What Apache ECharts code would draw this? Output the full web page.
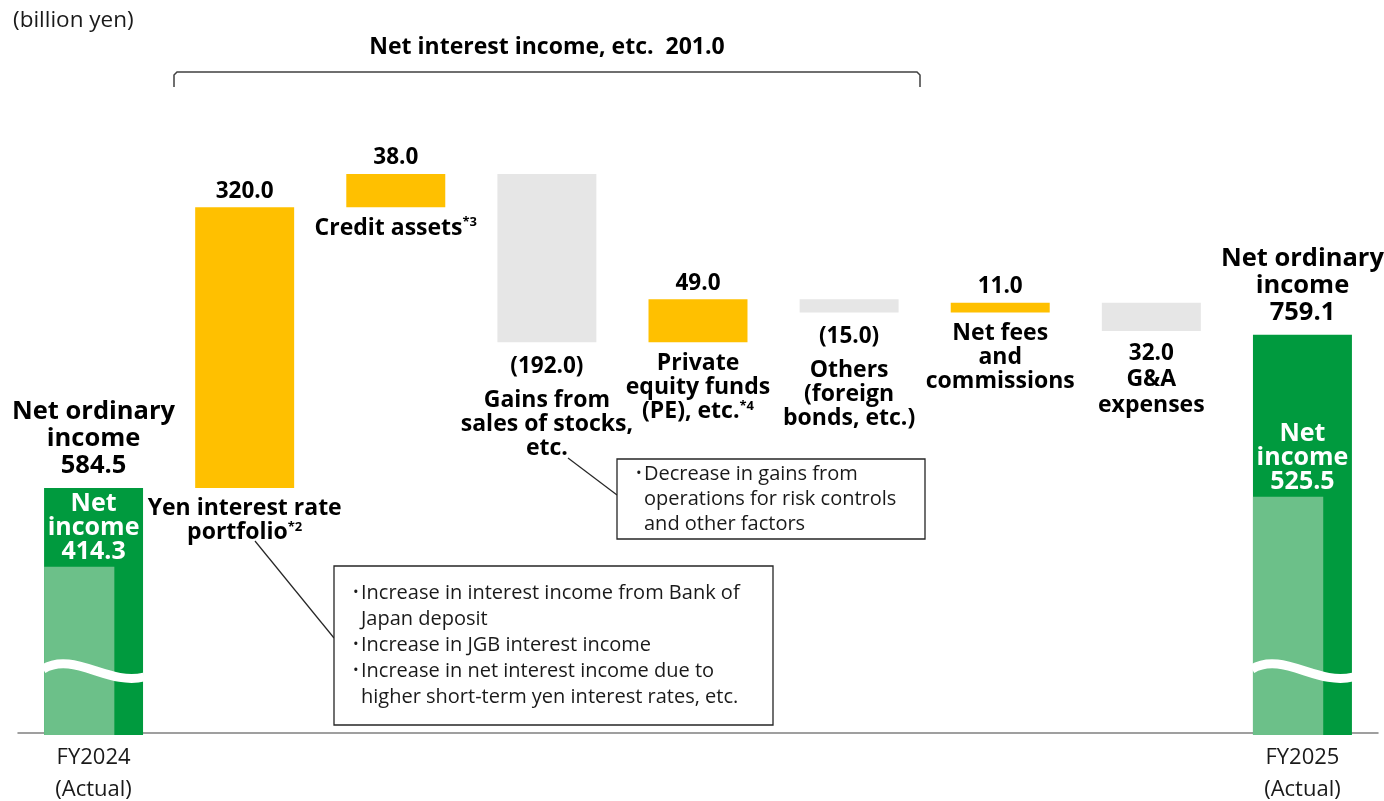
<!DOCTYPE html>
<html>
<head>
<meta charset="utf-8">
<script src="https://cdn.jsdelivr.net/npm/echarts@6/dist/echarts.min.js"></script>
<style>
  html, body { margin: 0; padding: 0; background: #fff; }
  #chart { width: 1384px; height: 801px; }
</style>
</head>
<body>
<div id="chart"></div>
<script>
// ---- Data (billion yen) ----
const periods = ['FY2024', 'FY2025'];
const periodNote = '(Actual)';
const netOrdinaryIncome = [584.5, 759.1];
const netIncome = [414.3, 525.5];

// Factors behind the year-on-year change in net ordinary income
const factorNames = [
  'Yen interest rate\nportfolio',
  'Credit assets',
  'Gains from\nsales of stocks,\netc.',
  'Private\nequity funds\n(PE), etc.',
  'Others\n(foreign\nbonds, etc.)',
  'Net fees\nand\ncommissions',
  'G&A\nexpenses'
];
const factorNotes = ['*2', '*3', '', '*4', '', '', ''];
const factorChanges = [320.0, 38.0, -192.0, 49.0, -15.0, 11.0, -32.0];
// Cost items are quoted as positive amounts
const costFactors = ['G&A\nexpenses'];

const groupTitle = 'Net interest income, etc.';
const groupTotal = 201.0;
const unitLabel = '(billion yen)';

const yenPortfolioNotes = [
  'Increase in interest income from Bank of\nJapan deposit',
  'Increase in JGB interest income',
  'Increase in net interest income due to\nhigher short-term yen interest rates, etc.'
];
const stockGainsNotes = [
  'Decrease in gains from\noperations for risk controls\nand other factors'
];

// ---- Derived series ----
const categories = [periods[0], ...factorNames.map(n => n.replace(/\n/g, ' ')), periods[1]];
let running = netOrdinaryIncome[0];
const stepData = factorChanges.map((d, k) => {
  const lo = Math.min(running, running + d);
  const hi = Math.max(running, running + d);
  running += d;
  return [k + 1, lo, hi, d];
});
const lastIdx = categories.length - 1;
const totalData = [[0, netOrdinaryIncome[0]], [lastIdx, netOrdinaryIncome[1]]];
const netIncomeData = [[0, netIncome[0]], [lastIdx, netIncome[1]]];

// ---- Styling ----
const FONT = "'Open Sans', 'Noto Sans', sans-serif";
const COLORS = { up: '#FFC000', down: '#E6E6E6', total: '#009A3E', net: '#6CC089', ink: '#000' };
const BAR_RATIO = 0.655;
const NET_RATIO = 0.71;
const Y_MIN = 305, Y_MAX = 1000;
const BREAK_OFFSET = 64;

const RICH = {
  v: { fontSize: 22.5, fontWeight: 'bold', fontFamily: FONT, lineHeight: 26, fill: COLORS.ink },
  n: { fontSize: 23, fontWeight: 'bold', fontFamily: FONT, lineHeight: 24, fill: COLORS.ink },
  c: { fontSize: 23, fontWeight: 'bold', fontFamily: FONT, lineHeight: 26, fill: COLORS.ink },
  sup: { fontSize: 13, fontWeight: 'bold', fontFamily: FONT, lineHeight: 13, verticalAlign: 'top', fill: COLORS.ink },
  t: { fontSize: 25.5, fontWeight: 'bold', fontFamily: FONT, lineHeight: 27, fill: COLORS.ink },
  w: { fontSize: 25, fontWeight: 'bold', fontFamily: FONT, lineHeight: 24, fill: '#fff' }
};

function richLines(text, key, note) {
  const lines = text.split('\n').map(l => `{${key}|${l}}`);
  if (note) lines[lines.length - 1] += `{sup|${note}}`;
  return lines.join('\n');
}

function formatChange(d, isCost) {
  const a = Math.abs(d).toFixed(1);
  return (d < 0 && !isCost) ? `(${a})` : a;
}

function textEl(x, y, text, vAlign) {
  return {
    type: 'text', x, y, z2: 10,
    style: { text, align: 'center', verticalAlign: vAlign, rich: RICH }
  };
}

function renderStep(params, api) {
  const k = params.dataIndex;
  const x = api.value(0), lo = api.value(1), hi = api.value(2), d = api.value(3);
  const pTop = api.coord([x, hi]);
  const pBot = api.coord([x, lo]);
  const w = api.size([1, 0])[0] * BAR_RATIO;
  const cx = pTop[0];
  const isCost = costFactors.includes(factorNames[k]);
  const valueText = formatChange(d, isCost);
  const children = [{
    type: 'rect',
    shape: { x: cx - w / 2, y: pTop[1], width: w, height: Math.max(pBot[1] - pTop[1], 1) },
    style: { fill: d >= 0 ? COLORS.up : COLORS.down }
  }];
  const name = richLines(factorNames[k], 'n', factorNotes[k]);
  if (d >= 0) {
    children.push(textEl(cx, pTop[1] - 3, `{v|${valueText}}`, 'bottom'));
    children.push(textEl(cx, pBot[1] + 9, name, 'top'));
  } else if (isCost) {
    children.push(textEl(cx, pBot[1] + 10, `{v|${valueText}}\n` + richLines(factorNames[k], 'c'), 'top'));
  } else {
    children.push(textEl(cx, pBot[1] + 11, `{v|${valueText}}`, 'top'));
    children.push(textEl(cx, pBot[1] + 46, name, 'top'));
  }
  return { type: 'group', children };
}

function renderTotal(params, api) {
  const x = api.value(0), v = api.value(1);
  const pTop = api.coord([x, v]);
  const base = params.coordSys.y + params.coordSys.height;
  const w = api.size([1, 0])[0] * BAR_RATIO;
  const cx = pTop[0];
  return {
    type: 'group',
    children: [
      { type: 'rect', shape: { x: cx - w / 2, y: pTop[1], width: w, height: base - pTop[1] + 2 },
        style: { fill: COLORS.total } },
      textEl(cx, pTop[1] - 9, `{t|Net ordinary}\n{t|income}\n{t|${v.toFixed(1)}}`, 'bottom')
    ]
  };
}

function renderNetIncome(params, api) {
  const x = api.value(0), v = api.value(1);
  const pTop = api.coord([x, v]);
  const base = params.coordSys.y + params.coordSys.height;
  const w = api.size([1, 0])[0] * BAR_RATIO;
  const x0 = pTop[0] - w / 2, x1 = pTop[0] + w / 2;
  const yc = base - BREAK_OFFSET;
  return {
    type: 'group',
    children: [
      { type: 'rect', shape: { x: x0, y: pTop[1], width: w * NET_RATIO, height: base - pTop[1] + 2 },
        style: { fill: COLORS.net } },
      { type: 'bezierCurve',
        shape: { x1: x0 - 1, y1: yc, cpx1: x0 + w * 0.3, cpy1: yc - 18, cpx2: x0 + w * 0.65, cpy2: yc + 17, x2: x1 + 1, y2: yc + 8 },
        style: { stroke: '#fff', lineWidth: 9, fill: null } },
      textEl(pTop[0], pTop[1] - 3, `{w|Net}\n{w|income}\n{w|${v.toFixed(1)}}`, 'bottom')
    ]
  };
}

const chart = echarts.init(document.getElementById('chart'), null, { renderer: 'canvas' });

const noteFont = { fontSize: 20, fontFamily: FONT, fill: '#1a1a1a', lineHeight: 26 };

function bulletBox(left, top, width, height, textTop, lineH, items) {
  const body = items.join('\n');
  const bullets = items.map(t => '•' + '\n'.repeat(t.split('\n').length - 1)).join('\n');
  return [
    { type: 'rect', shape: { x: left, y: top, width, height },
      style: { fill: '#fff', stroke: '#262626', lineWidth: 1.3 } },
    { type: 'text', x: left + 27, y: textTop,
      style: Object.assign({}, noteFont, { text: body, lineHeight: lineH, align: 'left', verticalAlign: 'top' }) },
    { type: 'text', x: left + 19, y: textTop,
      style: Object.assign({}, noteFont, { text: bullets, fontSize: 15, lineHeight: lineH, align: 'left', verticalAlign: 'top' }) }
  ];
}

chart.setOption({
  animation: false,
  backgroundColor: '#fff',
  textStyle: { fontFamily: FONT },
  grid: { left: 18, right: 6, top: 123.5, bottom: 68, containLabel: false, outerBoundsMode: 'none' },
  xAxis: {
    type: 'category',
    data: categories,
    axisLine: { lineStyle: { color: '#808080', width: 1.5 } },
    axisTick: { show: false },
    axisLabel: {
      interval: 0, margin: 9, fontSize: 22, lineHeight: 32, color: '#1a1a1a', fontFamily: FONT,
      formatter: (v) => periods.includes(v) ? `${v}\n${periodNote}` : ''
    },
    splitLine: { show: false }
  },
  yAxis: [
    { type: 'value', min: Y_MIN, max: Y_MAX, show: false },
    { type: 'value', min: 150, max: 1119, show: false }
  ],
  series: [
    { type: 'custom', name: 'Net ordinary income', data: totalData, renderItem: renderTotal, z: 2,
      encode: { x: 0, y: 1 } },
    { type: 'custom', name: 'Net income', data: netIncomeData, yAxisIndex: 1, renderItem: renderNetIncome, z: 3,
      encode: { x: 0, y: 1 } },
    { type: 'custom', name: 'Change', data: stepData, renderItem: renderStep, z: 2,
      encode: { x: 0, y: [1, 2] } }
  ],
  graphic: [
    { type: 'text', left: 13, top: 9,
      style: { text: unitLabel, fontSize: 22.5, fontFamily: FONT, fill: '#1a1a1a' } },
    { type: 'text', x: 547, y: 47,
      style: { text: `${groupTitle}  ${groupTotal.toFixed(1)}`, fontSize: 23, fontWeight: 'bold', fontFamily: FONT,
               fill: COLORS.ink, align: 'center', verticalAlign: 'middle' } },
    { type: 'polyline',
      shape: { points: [[174, 87], [174, 75], [177, 72], [917, 72], [920, 75], [920, 87]] },
      style: { stroke: '#404040', lineWidth: 1.5, fill: null } },
    { type: 'line', shape: { x1: 255, y1: 541, x2: 334, y2: 638 }, style: { stroke: '#262626', lineWidth: 1.2 } },
    { type: 'line', shape: { x1: 568, y1: 458, x2: 617, y2: 495 }, style: { stroke: '#262626', lineWidth: 1.2 } },
    ...bulletBox(334, 566, 439, 159, 580, 26, yenPortfolioNotes),
    ...bulletBox(617, 459, 308, 80, 461.5, 25, stockGainsNotes)
  ]
});
</script>
</body>
</html>
